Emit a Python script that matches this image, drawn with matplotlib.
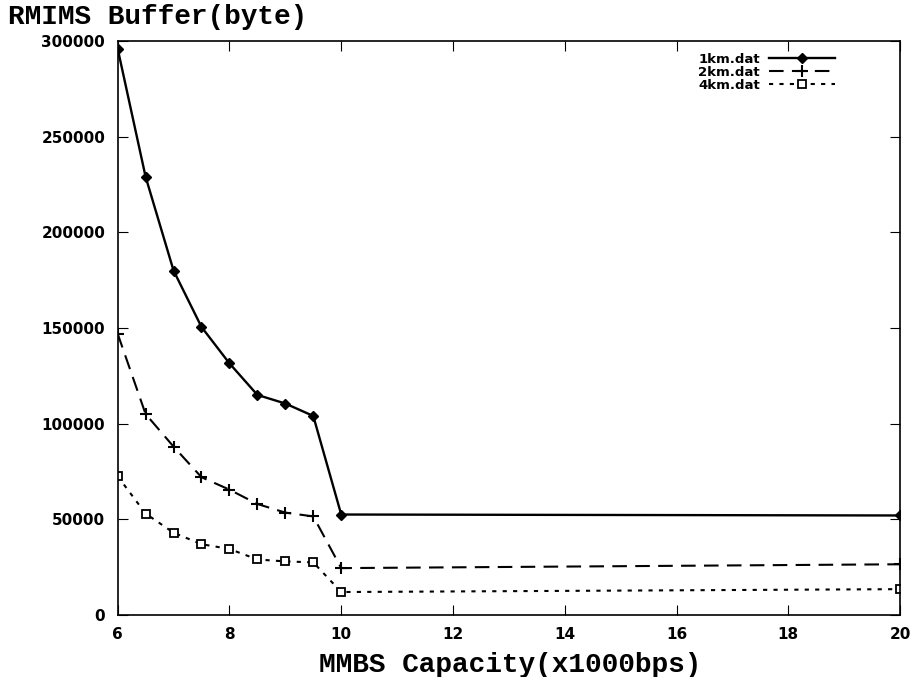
import matplotlib.pyplot as plt

capacity = [6, 6.5, 7, 7.5, 8, 8.5, 9, 9.5, 10, 20]
buf_1km = [296000, 229000, 180000, 150500, 131500, 115000, 110500, 104000, 52500, 52000]
buf_2km = [147000, 105000, 88000, 72000, 65500, 58000, 53500, 51500, 24500, 26500]
buf_4km = [72500, 53000, 43000, 37000, 34500, 29000, 28000, 27500, 12000, 13500]
labels = ['1km.dat', '2km.dat', '4km.dat']
xticks = [6, 8, 10, 12, 14, 16, 18, 20]
yticks = [0, 50000, 100000, 150000, 200000, 250000, 300000]

fig = plt.figure(figsize=(9.12, 6.77), dpi=100)
ax = fig.add_axes([0.129, 0.0916, 0.858, 0.848])

# три серії
ax.plot(capacity, buf_1km, color='black', lw=1.7, ls='-', marker='D', ms=5,
        label=labels[0])
ax.plot(capacity, buf_2km, color='black', lw=1.5, ls=(0, (7, 4)), marker='+',
        ms=8, mew=1.5, label=labels[1])
ax.plot(capacity, buf_4km, color='black', lw=1.5, ls=(0, (2, 3)), marker='s',
        ms=6, mfc='white', mew=1.3, label=labels[2])

ax.set_xlim(6, 20)
ax.set_ylim(0, 300000)
ax.set_xticks(xticks)
ax.set_yticks(yticks)
ax.tick_params(direction='in', top=True, right=True, length=7, labelsize=11, pad=9)
for t in ax.get_xticklabels() + ax.get_yticklabels():
    t.set_fontweight('bold')
    t.set_family('DejaVu Sans')
for s in ax.spines.values():
    s.set_linewidth(1.2)

leg = ax.legend(loc='upper right', frameon=False, markerfirst=False,
                bbox_to_anchor=(0.917, 0.979), borderaxespad=0, borderpad=0,
                handlelength=5.0, handletextpad=0.7, labelspacing=0.0,
                prop={'family': 'DejaVu Sans', 'weight': 'bold', 'size': 9.5})

fig.text(0.009, 0.975, 'RMIMS Buffer(byte)', family='Liberation Mono',
         weight='bold', fontsize=20, va='center')
fig.text(0.559, 0.018, 'MMBS Capacity(x1000bps)', family='Liberation Mono',
         weight='bold', fontsize=20, ha='center', va='center')

fig.savefig('out.png', dpi=100)
